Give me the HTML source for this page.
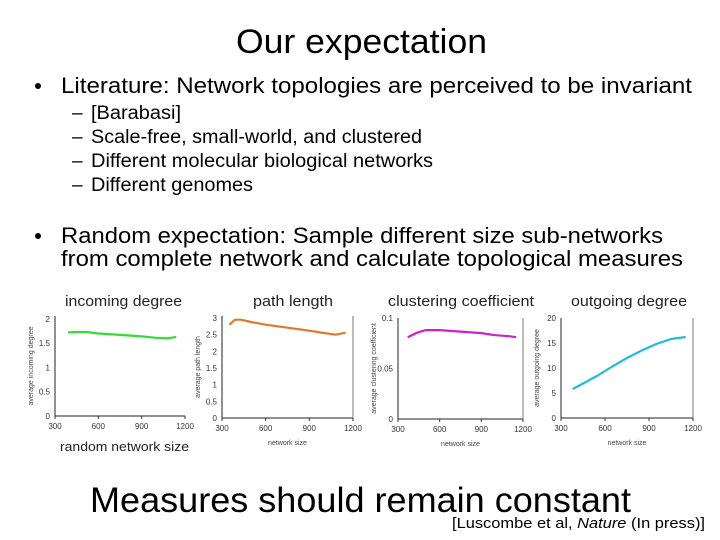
<!DOCTYPE html>
<html><head><meta charset="utf-8"><style>
html,body{margin:0;padding:0;background:#fff;}
svg{display:block;font-family:"Liberation Sans",sans-serif;}
</style></head><body>
<svg id="slide" width="720" height="540" viewBox="0 0 720 540" xmlns="http://www.w3.org/2000/svg">
<rect width="720" height="540" fill="#fff"/>
<text x="236" y="53" font-size="34" textLength="251" lengthAdjust="spacingAndGlyphs">Our expectation</text>
<g font-size="22">
<circle cx="38" cy="86" r="3" fill="#000"/>
<text x="61" y="93" textLength="631" lengthAdjust="spacingAndGlyphs">Literature: Network topologies are perceived to be invariant</text>
<g font-size="19">
<text x="72" y="119">–</text><text x="91" y="119" textLength="90" lengthAdjust="spacingAndGlyphs">[Barabasi]</text>
<text x="72" y="143">–</text><text x="91" y="143" textLength="331" lengthAdjust="spacingAndGlyphs">Scale-free, small-world, and clustered</text>
<text x="72" y="167">–</text><text x="91" y="167" textLength="342" lengthAdjust="spacingAndGlyphs">Different molecular biological networks</text>
<text x="72" y="191">–</text><text x="91" y="191" textLength="162" lengthAdjust="spacingAndGlyphs">Different genomes</text>
</g>
<circle cx="38" cy="236" r="3" fill="#000"/>
<text x="61" y="243" textLength="602" lengthAdjust="spacingAndGlyphs">Random expectation: Sample different size sub-networks</text>
<text x="61" y="266" textLength="622" lengthAdjust="spacingAndGlyphs">from complete network and calculate topological measures</text>
</g>
<g font-size="15" fill="#222">
<text x="65" y="306" textLength="117" lengthAdjust="spacingAndGlyphs">incoming degree</text>
<text x="253" y="306" textLength="80" lengthAdjust="spacingAndGlyphs">path length</text>
<text x="388" y="306" textLength="146" lengthAdjust="spacingAndGlyphs">clustering coefficient</text>
<text x="571" y="306" textLength="116" lengthAdjust="spacingAndGlyphs">outgoing degree</text>
<text x="60" y="451" font-size="13" textLength="129" lengthAdjust="spacingAndGlyphs">random network size</text>
</g>
<g id="charts"></g>
<text x="90" y="512" font-size="35" textLength="541" lengthAdjust="spacingAndGlyphs">Measures should remain constant</text>
<text x="452" y="528" font-size="15" textLength="253" lengthAdjust="spacingAndGlyphs">[Luscombe et al, <tspan font-style="italic">Nature</tspan> (In press)]</text>
</svg>
<script>
// data
const xTicks = [300, 600, 900, 1200];
const incomingX = [390, 450, 520, 600, 700, 800, 900, 1000, 1080, 1140];
const incomingY = [1.72, 1.73, 1.73, 1.70, 1.68, 1.66, 1.64, 1.61, 1.60, 1.63];
const incomingTicks = [0, 0.5, 1, 1.5, 2];
const pathX = [350, 390, 430, 500, 600, 700, 800, 900, 1000, 1080, 1150];
const pathY = [2.8, 2.95, 2.95, 2.88, 2.8, 2.74, 2.68, 2.62, 2.55, 2.5, 2.56];
const pathTicks = [0, 0.5, 1, 1.5, 2, 2.5, 3];
const clustX = [370, 430, 500, 600, 700, 800, 900, 1000, 1100, 1150];
const clustY = [0.081, 0.085, 0.088, 0.088, 0.087, 0.086, 0.085, 0.083, 0.082, 0.081];
const clustTicks = [0, 0.05, 0.1];
const outX = [380, 450, 550, 650, 750, 850, 950, 1050, 1150];
const outY = [5.8, 6.9, 8.5, 10.3, 12.0, 13.5, 14.8, 15.8, 16.2];
const outTicks = [0, 5, 10, 15, 20];

const NS = "http://www.w3.org/2000/svg";
const root = document.getElementById('charts');
function mk(tag, attrs, parent){const e=document.createElementNS(NS,tag);for(const k in attrs)e.setAttribute(k,attrs[k]);parent.appendChild(e);return e;}
function chart(name, box, yMax, xs, ys, ticks, color, yTitle, xTitle, rightLine){
  const g = mk('g',{},root);
  
  
  const sx = v => box.x0 + (v-300)/(1200-300)*(box.x1-box.x0);
  const sy = v => box.y0 - v/yMax*(box.y0-box.y1);
  const ax = mk('path',{d:`M${box.x0},${box.y1}V${box.y0}H${box.x1}`,stroke:'#222',fill:'none','stroke-width':1},g);
  
  
  if(rightLine){const r=mk('line',{x1:box.x1,x2:box.x1,y1:box.y1,y2:box.y0,stroke:'#777'},g);
    
    }
  ticks.forEach(t=>{const tx=mk('text',{x:box.x0-5,y:sy(t)+3,'font-size':8,'text-anchor':'end',fill:'#333'},g);tx.textContent=t;
    
    });
  xTicks.forEach(t=>{mk('line',{x1:sx(t),x2:sx(t),y1:box.y0,y2:box.y0+3,stroke:'#333'},g);
    const tx=mk('text',{x:sx(t),y:box.y0+13,'font-size':8,'text-anchor':'middle',fill:'#333'},g);tx.textContent=t;
    
    });
  const yt=mk('text',{transform:`translate(${box.x0-22},${(box.y0+box.y1)/2}) rotate(-90)`,'font-size':7,'text-anchor':'middle',fill:'#444'},g);yt.textContent=yTitle;
  
  
  if(xTitle){const xt=mk('text',{x:(box.x0+box.x1)/2,y:box.y0+27,'font-size':7,'text-anchor':'middle',fill:'#444'},g);xt.textContent=xTitle;
    
    }
  const d = xs.map((x,i)=>(i?'L':'M')+sx(x).toFixed(1)+','+sy(ys[i]).toFixed(1)).join('');
  const ln=mk('path',{d:d,stroke:color,fill:'none','stroke-width':2.2,'stroke-linejoin':'round'},g);
  
  
}
chart('incoming-degree-chart',{x0:55,x1:185,y0:416,y1:316},2.06,incomingX,incomingY,incomingTicks,'#33dd33','average incoming degree','',false);
chart('path-length-chart',{x0:222,x1:353,y0:418,y1:316},3.06,pathX,pathY,pathTicks,'#e07a2a','average path length','network size',true);
chart('clustering-coefficient-chart',{x0:398,x1:523,y0:419,y1:318},0.1,clustX,clustY,clustTicks,'#cc22cc','average clustering coefficient','network size',true);
chart('outgoing-degree-chart',{x0:561,x1:693,y0:418,y1:318},20,outX,outY,outTicks,'#22bbdd','average outgoing degree','network size',true);
</script>
</body></html>
